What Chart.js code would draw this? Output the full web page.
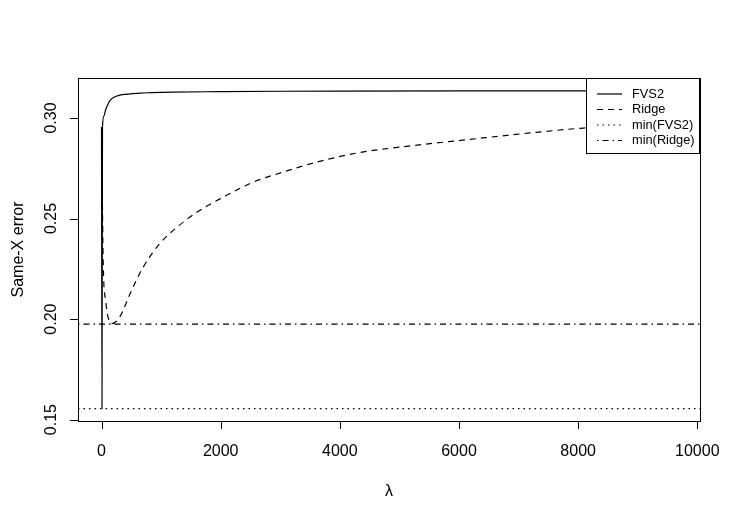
<!DOCTYPE html>
<html>
<head>
<meta charset="utf-8">
<script src="https://cdn.jsdelivr.net/npm/chart.js@4.4.1/dist/chart.umd.min.js"></script>
<style>
html,body{margin:0;padding:0;background:#fff}
#wrap{width:741px;height:519px;position:relative}
</style>
</head>
<body>
<div id="wrap"><canvas id="plot"></canvas></div>
<script>
// values
const lambdaFvs = [0, 8, 16, 40, 68, 110, 152, 200, 265, 350, 490, 650, 828, 1200, 2000, 3000, 4000, 6000, 8000, 9660];
const errFvs = [0.2955, 0.1555, 0.2958, 0.3010, 0.3040, 0.3070, 0.3090, 0.3102, 0.3110, 0.3116, 0.3120, 0.3124, 0.3126, 0.3129, 0.3131, 0.3133, 0.3134, 0.3135, 0.3135, 0.3135];
const lambdaRidge = [0, 15, 30, 70, 115, 175, 300, 500, 697, 982, 1268, 1604, 2040, 2544, 3048, 3619, 4291, 5200, 6133, 7100, 8085, 9000, 9660];
const errRidge = [0.2955, 0.2560, 0.2257, 0.2090, 0.2003, 0.1978, 0.2008, 0.2140, 0.2257, 0.2377, 0.2457, 0.2532, 0.2606, 0.2681, 0.2731, 0.2781, 0.2826, 0.2862, 0.2892, 0.2923, 0.2950, 0.2965, 0.2975];
const minFvs = 0.1555;
const minRidge = 0.1975;

const xLimits = [-395, 10045];
const yLimits = [0.1493, 0.3199];
const xTicks = [0, 2000, 4000, 6000, 8000, 10000];
const yTicks = [0.15, 0.20, 0.25, 0.30];
const yTickLabels = ['0.15', '0.20', '0.25', '0.30'];
const legendLabels = ['FVS2', 'Ridge', 'min(FVS2)', 'min(Ridge)'];
const dashes = [[], [6, 5], [1.5, 4], [1.5, 4, 6, 4]];

const FONT = '"Liberation Sans", Arial, Helvetica, sans-serif';

function pts(xs, ys){
	return xs.map((v, i) => ({x: v, y: ys[i]}));
}

function lineSet(label, data, dash){
	return {
		label: label,
		data: data,
		borderColor: '#000',
		borderWidth: 1.2,
		borderDash: dash,
		pointRadius: 0,
		fill: false,
		cubicInterpolationMode: 'monotone'
	};
}

// R style box, axes and legend
const baseAxes = {
	id: 'baseAxes',
	afterDraw(chart){
		const {ctx, chartArea: a, scales: {x, y}} = chart;
		ctx.save();
		ctx.strokeStyle = '#000';
		ctx.fillStyle = '#000';
		ctx.lineWidth = 1;
		ctx.setLineDash([]);

		//Legend
		const lx = 586, ly = a.top, lw = 113, lh = 75;
		ctx.fillStyle = '#fff';
		ctx.fillRect(lx, ly, lw, lh);
		ctx.strokeRect(lx + 0.5, ly + 0.5, lw, lh);
		ctx.fillStyle = '#000';
		ctx.font = '12.8px ' + FONT;
		ctx.textBaseline = 'middle';
		ctx.textAlign = 'left';
		legendLabels.forEach((lab, i) => {
			const cy = 94 + i * 15.5;
			ctx.save();
			ctx.lineWidth = 1.2;
			ctx.setLineDash(dashes[i]);
			ctx.beginPath();
			ctx.moveTo(597, cy);
			ctx.lineTo(622, cy);
			ctx.stroke();
			ctx.restore();
			ctx.fillText(lab, 632, cy);
		});

		//Box
		ctx.strokeRect(a.left + 0.5, a.top + 0.5, a.right - a.left, a.bottom - a.top);

		//x axis
		ctx.font = '16px ' + FONT;
		ctx.textAlign = 'center';
		ctx.textBaseline = 'alphabetic';
		ctx.beginPath();
		xTicks.forEach(t => {
			const px = Math.round(x.getPixelForValue(t)) + 0.5;
			ctx.moveTo(px, a.bottom);
			ctx.lineTo(px, a.bottom + 8);
		});
		ctx.stroke();
		xTicks.forEach(t => {
			ctx.fillText(String(t), x.getPixelForValue(t), 456);
		});
		ctx.fillText('\u03bb', (a.left + a.right) / 2, 496);

		//y axis
		ctx.beginPath();
		yTicks.forEach(t => {
			const py = Math.round(y.getPixelForValue(t)) + 0.5;
			ctx.moveTo(a.left, py);
			ctx.lineTo(a.left - 8, py);
		});
		ctx.stroke();
		yTicks.forEach((t, i) => {
			ctx.save();
			ctx.translate(56, y.getPixelForValue(t));
			ctx.rotate(-Math.PI / 2);
			ctx.fillText(yTickLabels[i], 0, 0);
			ctx.restore();
		});
		ctx.save();
		ctx.translate(23, (a.top + a.bottom) / 2);
		ctx.rotate(-Math.PI / 2);
		ctx.fillText('Same-X error', 0, 0);
		ctx.restore();

		ctx.restore();
	}
};

new Chart(document.getElementById('plot'), {
	type: 'line',
	data: {
		datasets: [
			lineSet('FVS2', pts(lambdaFvs, errFvs), dashes[0]),
			lineSet('Ridge', pts(lambdaRidge, errRidge), dashes[1]),
			lineSet('min(FVS2)', pts(xLimits, [minFvs, minFvs]), dashes[2]),
			lineSet('min(Ridge)', pts(xLimits, [minRidge, minRidge]), dashes[3])
		]
	},
	options: {
		responsive: true,
		maintainAspectRatio: false,
		animation: false,
		layout: {padding: {top: 78, right: 41, left: 0, bottom: 0}},
		plugins: {legend: {display: false}, tooltip: {enabled: false}},
		scales: {
			x: {
				type: 'linear',
				min: xLimits[0],
				max: xLimits[1],
				grid: {display: false},
				border: {display: false},
				ticks: {display: false},
				afterFit: s => { s.height = 98; }
			},
			y: {
				min: yLimits[0],
				max: yLimits[1],
				grid: {display: false},
				border: {display: false},
				ticks: {display: false},
				afterFit: s => { s.width = 78; }
			}
		}
	},
	plugins: [baseAxes]
});
</script>
</body>
</html>
